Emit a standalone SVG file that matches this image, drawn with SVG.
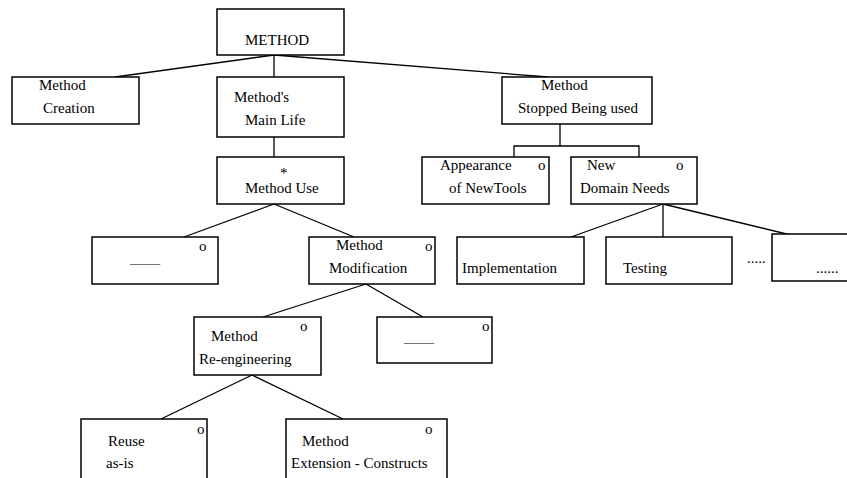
<svg xmlns="http://www.w3.org/2000/svg" width="847" height="478" viewBox="0 0 847 478">
<style>
rect{fill:#fff;stroke:#000;stroke-width:1.5}
text{font-family:'Liberation Serif',Tinos,Times,'Times New Roman',serif;font-size:15px;fill:#000}
.c line,.c polyline{stroke:#000;stroke-width:1.3;fill:none}
.d{fill:#555}
</style>
<rect x="0" y="0" width="847" height="478" style="stroke:none"/>
<g class="c" id="connectors">
<line x1="274" y1="55" x2="115" y2="77"/>
<line x1="274" y1="55" x2="274" y2="77"/>
<line x1="274" y1="55" x2="548" y2="77"/>
<line x1="274" y1="122" x2="274" y2="157"/>
<line x1="560" y1="124" x2="560" y2="146"/>
<polyline points="514,157 514,146 639,146 639,157"/>
<line x1="274" y1="204" x2="184" y2="237"/>
<line x1="274" y1="204" x2="354" y2="237"/>
<line x1="663" y1="204" x2="571" y2="237"/>
<line x1="663" y1="204" x2="663" y2="237"/>
<line x1="663" y1="204" x2="799" y2="237"/>
<line x1="366" y1="284" x2="263" y2="317"/>
<line x1="366" y1="284" x2="423" y2="317"/>
<line x1="252" y1="375" x2="161" y2="419"/>
<line x1="252" y1="375" x2="343" y2="419"/>
</g>
<g id="n-method"><rect x="217" y="9" width="127" height="46"/><text x="245" y="45">METHOD</text></g>
<g id="n-creation"><rect x="12" y="77" width="127" height="47"/><text x="39" y="90">Method</text><text x="43" y="113">Creation</text></g>
<g id="n-mainlife"><rect x="217" y="77" width="127" height="60"/><text x="234" y="102">Method's</text><text x="245" y="125">Main Life</text></g>
<g id="n-stopped"><rect x="502" y="77" width="150" height="47"/><text x="541" y="90">Method</text><text x="518" y="113">Stopped Being used</text></g>
<g id="n-use"><rect x="217" y="157" width="127" height="47"/><text x="280" y="178">*</text><text x="245" y="193">Method Use</text></g>
<g id="n-appearance"><rect x="422" y="157" width="127" height="47"/><text x="440" y="170">Appearance</text><text x="538" y="170">o</text><text x="449" y="193">of NewTools</text></g>
<g id="n-domain"><rect x="571" y="157" width="126" height="47"/><text x="587" y="170">New</text><text x="676" y="170">o</text><text x="580" y="193">Domain Needs</text></g>
<g id="n-blank1"><rect x="92" y="237" width="126" height="47"/><text x="199" y="251">o</text><text class="d" x="130" y="263">____</text></g>
<g id="n-modification"><rect x="309" y="237" width="126" height="47"/><text x="336" y="250">Method</text><text x="425" y="251">o</text><text x="329" y="273">Modification</text></g>
<g id="n-implementation"><rect x="457" y="237" width="127" height="47"/><text x="462" y="273">Implementation</text></g>
<g id="n-testing"><rect x="606" y="237" width="126" height="47"/><text x="623" y="273">Testing</text></g>
<g id="n-dots"><text x="747" y="263">.....</text></g>
<g id="n-more"><rect x="772" y="234" width="90" height="47"/><text x="816" y="273">......</text></g>
<g id="n-reeng"><rect x="194" y="317" width="127" height="58"/><text x="300" y="331">o</text><text x="211" y="341">Method</text><text x="199" y="364">Re-engineering</text></g>
<g id="n-blank2"><rect x="377" y="317" width="115" height="46"/><text x="482" y="331">o</text><text class="d" x="404" y="342">____</text></g>
<g id="n-reuse"><rect x="81" y="419" width="126" height="70"/><text x="197" y="434">o</text><text x="108" y="446">Reuse</text><text x="106" y="468">as-is</text></g>
<g id="n-extension"><rect x="286" y="419" width="161" height="70"/><text x="425" y="434">o</text><text x="302" y="446">Method</text><text x="291" y="468">Extension - Constructs</text></g>
</svg>
